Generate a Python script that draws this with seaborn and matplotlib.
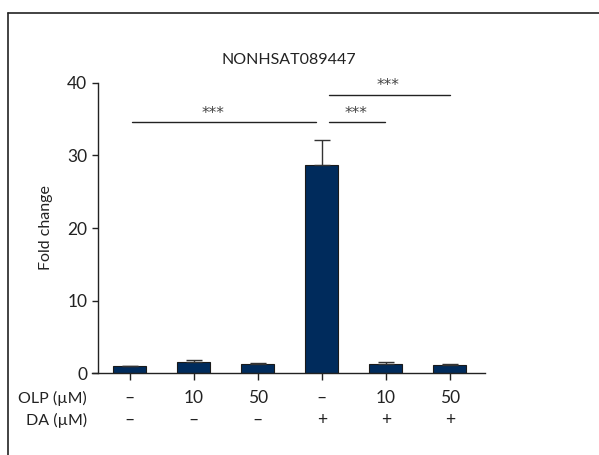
import matplotlib
matplotlib.use("Agg")
import matplotlib.pyplot as plt
import seaborn as sns
import pandas as pd
from matplotlib.lines import Line2D

# data
groups = ["g1", "g2", "g3", "g4", "g5", "g6"]
fold_change = [0.95, 1.5, 1.25, 28.7, 1.3, 1.15]
sem = [0.05, 0.3, 0.12, 3.5, 0.18, 0.15]
olp_labels = ["\u2013", "10", "50", "\u2013", "10", "50"]
da_labels = ["\u2013", "\u2013", "\u2013", "+", "+", "+"]
title = "NONHSAT089447"

# significance brackets: (x start, x end, y, star x)
sig_lines = [(0.03, 2.91, 34.6, 1.3), (3.12, 3.99, 34.6, 3.53), (3.12, 5.0, 38.4, 4.03)]

sns.set_style("ticks")
plt.rcParams['font.family'] = ['Lato', 'DejaVu Sans']

df = pd.DataFrame({"group": groups, "fc": fold_change, "sem": sem})

fig = plt.figure(figsize=(5.99, 4.55), dpi=100)
ax = fig.add_axes([0.1536, 0.1802, 0.6561, 0.6374])

bar_col = "#002b5c"
sns.barplot(x="group", y="fc", data=df, order=groups, color=bar_col,
            width=0.52, edgecolor="#1a1a1a", linewidth=0.8, saturation=1,
            errorbar=None, ax=ax)
ax.errorbar(range(len(groups)), df["fc"], yerr=[[0] * len(groups), df["sem"]],
            fmt="none", ecolor="#333333", elinewidth=1.0, capsize=6, capthick=1.0)

ax.set_xlim(-0.59, 5.55)
ax.set_ylim(0, 40)
ax.set_yticks([0, 10, 20, 30, 40])
ax.set_xticks(range(len(groups)))
ax.set_xticklabels([])
ax.set_xlabel("")
ax.set_ylabel("Fold change", fontsize=11.5, color="#222222", labelpad=10)
ax.spines["left"].set_position(("data", -0.5))
ax.spines["top"].set_visible(False)
ax.spines["right"].set_visible(False)
for s in ["left", "bottom"]:
    ax.spines[s].set_color("#222222")
    ax.spines[s].set_linewidth(1.0)
ax.tick_params(axis="y", direction="out", length=4.5, width=1.0, pad=3,
               labelsize=12.5, colors="#222222")
ax.tick_params(axis="x", direction="out", length=5, width=1.0, colors="#222222")
ax.set_title(title, fontsize=11.5, color="#222222", pad=14)

for i, (o, d) in enumerate(zip(olp_labels, da_labels)):
    ax.text(i, -3.45, o, ha="center", va="center", fontsize=12.5, color="#222222", clip_on=False)
    ax.text(i, -6.5, d, ha="center", va="center", fontsize=12.5, color="#222222", clip_on=False)
ax.text(-0.67, -3.45, "OLP (\u00b5M)", ha="right", va="center", fontsize=11.5, color="#222222", clip_on=False)
ax.text(-0.67, -6.5, "DA (\u00b5M)", ha="right", va="center", fontsize=11.5, color="#222222", clip_on=False)

for x0, x1, y, xs in sig_lines:
    ax.plot([x0, x1], [y, y], color="#222222", lw=1.0, clip_on=False)
    ax.text(xs, y + 0.2, "***", ha="center", va="bottom", fontsize=11,
            family="DejaVu Sans", color="#444444")

# outer frame
fig.add_artist(Line2D([8 / 599, 8 / 599], [0, 1 - 12.5 / 455], color="#222222", lw=1.2))
fig.add_artist(Line2D([8 / 599, 1], [1 - 12.5 / 455, 1 - 12.5 / 455], color="#222222", lw=1.2))

plt.savefig("out.png", dpi=100)
